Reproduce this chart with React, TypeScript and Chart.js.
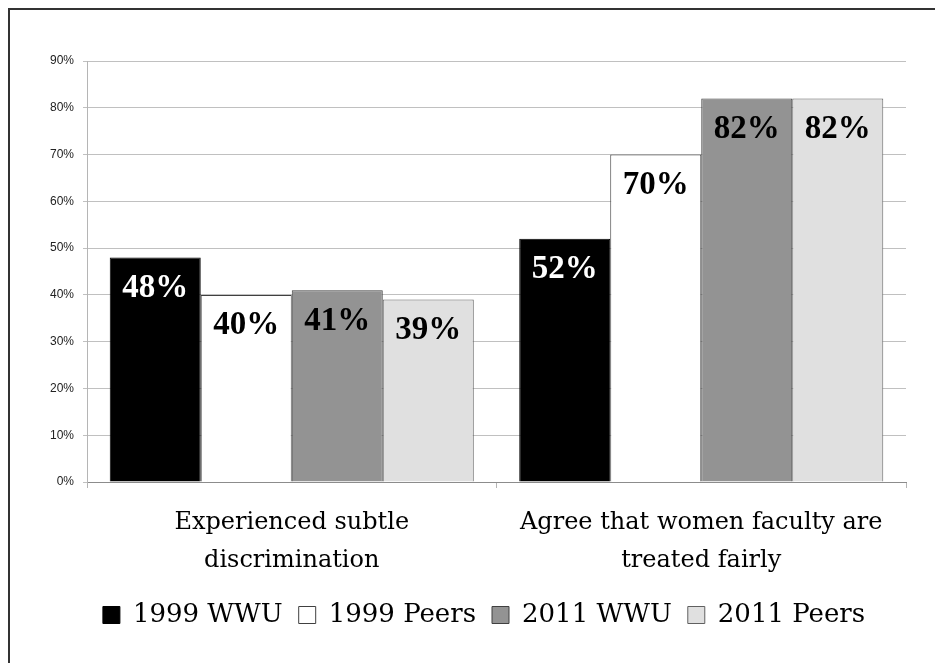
import React, { useEffect, useRef } from "react";
import { Chart, registerables } from "chart.js";

Chart.register(...registerables);

const categories: string[][] = [
  ["Experienced subtle", "discrimination"],
  ["Agree that women faculty are", "treated fairly"],
];
const seriesNames = ["1999 WWU", "1999 Peers", "2011 WWU", "2011 Peers"];
const wwu1999 = [48, 52];
const peers1999 = [40, 70];
const wwu2011 = [41, 82];
const peers2011 = [39, 82];
const yTicks = [0, 10, 20, 30, 40, 50, 60, 70, 80, 90];

const fills = ["#000000", "#ffffff", "#939393", "#e0e0e0"];
const borders = ["#000000", "#404040", "#404040", "#606060"];
const labelColors = ["#ffffff", "#000000", "#000000", "#000000"];

const SERIF = "'DejaVu Serif', serif";
const LSERIF = "'Liberation Serif', 'Times New Roman', serif";

const frame = {
  id: "frame",
  afterLayout(chart: any) {
    if (chart.legend) {
      chart.legend.left += 27;
      chart.legend.right += 27;
    }
  },
  afterDraw(chart: any) {
    const ctx = chart.ctx;
    ctx.save();
    ctx.strokeStyle = "#333333";
    ctx.lineWidth = 2;
    ctx.beginPath();
    ctx.moveTo(1, chart.height + 5);
    ctx.lineTo(1, 1);
    ctx.lineTo(chart.width + 5, 1);
    ctx.stroke();
    ctx.restore();
  },
};

const valueLabels = {
  id: "valueLabels",
  afterDatasetsDraw(chart: any) {
    const ctx = chart.ctx;
    ctx.save();
    ctx.font = `bold 33px ${LSERIF}`;
    ctx.textAlign = "center";
    ctx.textBaseline = "middle";
    chart.data.datasets.forEach((ds: any, i: number) => {
      const meta = chart.getDatasetMeta(i);
      meta.data.forEach((bar: any, j: number) => {
        ctx.fillStyle = labelColors[i];
        ctx.fillText(`${ds.data[j]}%`, bar.x, bar.y + 31);
      });
    });
    ctx.restore();
  },
};

export default function App() {
  const ref = useRef<HTMLCanvasElement>(null);
  useEffect(() => {
    if (!ref.current) return;
    const values = [wwu1999, peers1999, wwu2011, peers2011];
    const chart = new Chart(ref.current, {
      type: "bar",
      data: {
        labels: categories,
        datasets: values.map((v, i) => ({
          label: seriesNames[i],
          data: v,
          backgroundColor: fills[i],
          borderColor: borders[i],
          borderWidth: 1,
          categoryPercentage: 0.889,
          barPercentage: 1,
        })),
      },
      options: {
        animation: false,
        responsive: false,
        layout: { padding: { top: 53, right: 37, left: 0, bottom: 25 } },
        plugins: {
          tooltip: { enabled: false },
          legend: {
            position: "bottom",
            labels: {
              font: { family: SERIF, size: 26 },
              color: "#000",
              boxWidth: 17,
              boxHeight: 17,
              padding: 16,
              generateLabels: (chart: any) =>
                chart.data.datasets.map((ds: any, i: number) => ({
                  text: ds.label,
                  fillStyle: fills[i],
                  strokeStyle: borders[i],
                  lineWidth: 1,
                  datasetIndex: i,
                  fontColor: "#000",
                })),
            },
          },
        },
        scales: {
          x: {
            afterFit: (axis: any) => {
              axis.height = 104;
            },
            grid: {
              offset: true,
              drawOnChartArea: false,
              drawTicks: true,
              tickLength: 6,
              color: "#b5b5b5",
            },
            border: { color: "#8c8c8c" },
            ticks: {
              font: { family: SERIF, size: 24, lineHeight: 1.58 },
              color: "#000",
              padding: 16,
              maxRotation: 0,
              autoSkip: false,
            },
          },
          y: {
            min: 0,
            max: 90,
            afterBuildTicks: (axis: any) => {
              axis.ticks = yTicks.map((v) => ({ value: v }));
            },
            afterFit: (axis: any) => {
              axis.width = 79;
            },
            grid: { color: "#c0c0c0", tickLength: 4 },
            border: { color: "#b5b5b5" },
            ticks: {
              font: { family: "'Liberation Sans', Arial, sans-serif", size: 12 },
              color: "#222",
              padding: 9,
              callback: (v: any) => `${v}%`,
            },
          },
        },
      },
      plugins: [frame, valueLabels],
    });
    return () => chart.destroy();
  }, []);
  return (
    <div style={{ width: 935, height: 655 }}>
      <canvas ref={ref} width={935} height={655} />
    </div>
  );
}
